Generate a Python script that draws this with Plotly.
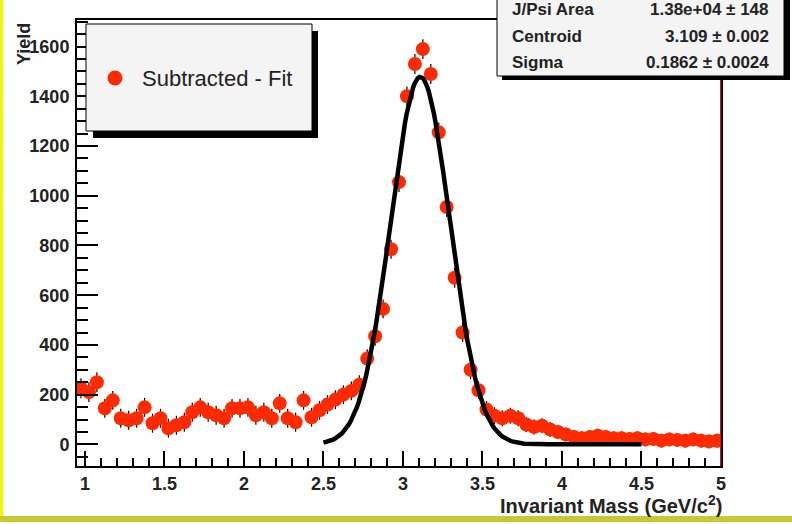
import math
import plotly.graph_objects as go

# ---------------- data ----------------
bin_width = 0.05
mass = [round(0.975 + bin_width * i, 3) for i in range(81)]  # histogram bin centres (GeV/c^2)
yields = [
    226, 210, 250, 145, 177, 105, 97, 105, 149, 85,      # 0.975 - 1.425
    105, 65, 77, 89, 129, 149, 129, 117, 105, 145,       # 1.475 - 1.925
    145, 149, 117, 129, 105, 165, 105, 89, 177, 109,     # 1.975 - 2.425
    137, 160, 180, 200, 215, 240, 345, 435, 545, 785,    # 2.475 - 2.925
    1055, 1400, 1530, 1590, 1490, 1255, 955, 670, 450, 300,  # 2.975 - 3.425
    218, 140, 115, 105, 115, 105, 80, 70, 75, 60,        # 3.475 - 3.925
    50, 40, 30, 25, 30, 35, 30, 25, 25, 22,              # 3.975 - 4.425
    25, 20, 22, 15, 20, 18, 15, 20, 15, 12,              # 4.475 - 4.925
    15,                                                  # 4.975
]
errors = [
    40, 40, 40, 38, 38, 38, 38, 38, 38, 38,
    38, 38, 38, 38, 38, 38, 38, 38, 38, 38,
    38, 38, 38, 38, 38, 38, 38, 38, 38, 38,
    38, 38, 38, 38, 38, 38, 38, 38, 38, 38,
    40, 40, 40, 40, 40, 40, 40, 40, 38, 38,
    36, 34, 34, 32, 32, 32, 30, 30, 30, 30,
    28, 28, 28, 28, 28, 28, 28, 28, 28, 28,
    28, 28, 28, 28, 28, 28, 28, 28, 28, 28,
    28,
]
fit_area = 1.38e4
fit_centroid = 3.109
fit_sigma = 0.1862
fit_range = (2.5, 4.5)
stats_labels = ["J/Psi Area", "Centroid", "Sigma"]
stats_values = ["1.38e+04 ± 148", "3.109 ± 0.002", "0.1862 ± 0.0024"]
legend_label = "Subtracted - Fit"

# fit curve evaluated from the fitted parameters
n_fit = 200
fit_x = [fit_range[0] + (fit_range[1] - fit_range[0]) * i / (n_fit - 1) for i in range(n_fit)]
amp = fit_area * bin_width / (math.sqrt(2 * math.pi) * fit_sigma)
fit_y = [amp * math.exp(-0.5 * ((x - fit_centroid) / fit_sigma) ** 2) for x in fit_x]

RED = "#ff2a00"
FONT = "Liberation Sans, Arial, Helvetica, sans-serif"

# ---------------- figure ----------------
L, R, T, B = 77, 71, 20, 58
W, H = 792, 524
PW, PH = W - L - R, H - T - B


def px(x):
    return (x - L) / PW


def py(y):
    return (H - B - y) / PH


fig = go.Figure()
fig.add_trace(go.Scatter(
    x=mass, y=yields, mode="markers",
    marker=dict(color=RED, size=14, line=dict(width=0)),
    error_y=dict(type="data", array=errors, color="black", thickness=1.2, width=0),
    hoverinfo="skip", showlegend=False,
))
fig.add_trace(go.Scatter(
    x=fit_x, y=fit_y, mode="lines",
    line=dict(color="black", width=4.5),
    hoverinfo="skip", showlegend=False,
))

shapes = [
    # red histogram edge at the upper limit
    dict(type="line", xref="x", yref="paper", x0=5.0, x1=5.0, y0=0, y1=1,
         line=dict(color="#ff0000", width=2), layer="above"),
    # legend box with shadow
    dict(type="rect", xref="paper", yref="paper", x0=px(93), x1=px(318), y0=py(138), y1=py(31),
         fillcolor="black", line=dict(width=0), layer="above"),
    dict(type="rect", xref="paper", yref="paper", x0=px(86), x1=px(312), y0=py(131), y1=py(24),
         fillcolor="#f4f4f4", line=dict(color="black", width=1), layer="above"),
    dict(type="circle", xref="paper", yref="paper", xsizemode="pixel", ysizemode="pixel",
         xanchor=px(115), yanchor=py(78), x0=-7.5, x1=7.5, y0=-7.5, y1=7.5,
         fillcolor=RED, line=dict(width=0), layer="above"),
    # stats box with shadow
    dict(type="rect", xref="paper", yref="paper", x0=px(502), x1=px(790), y0=py(80), y1=py(-4),
         fillcolor="black", line=dict(width=0), layer="above"),
    dict(type="rect", xref="paper", yref="paper", x0=px(497), x1=px(784), y0=py(76), y1=py(-8),
         fillcolor="#f4f4f4", line=dict(color="black", width=1), layer="above"),
    # canvas edges
    dict(type="rect", xref="paper", yref="paper", x0=px(0), x1=px(3), y0=py(516), y1=py(0),
         fillcolor="#f5f500", line=dict(width=0), layer="above"),
    dict(type="rect", xref="paper", yref="paper", x0=px(0), x1=px(792), y0=py(522), y1=py(516),
         fillcolor="#c8c832", line=dict(width=0), layer="above"),
]

annotations = [
    dict(xref="paper", yref="paper", x=px(140), y=py(78), xanchor="left", yanchor="middle",
         text=legend_label, showarrow=False, font=dict(family=FONT, size=22, color="#222")),
    dict(xref="paper", yref="paper", x=px(24), y=py(44), xanchor="center", yanchor="middle",
         text="Yield", textangle=-90, showarrow=False,
         font=dict(family=FONT, size=18, color="#222", weight="bold")),
    dict(xref="paper", yref="paper", x=px(724), y=py(505), xanchor="right", yanchor="middle",
         text="Invariant Mass (GeV/c<sup>2</sup>)", showarrow=False,
         font=dict(family=FONT, size=20, color="#222", weight="bold")),
]
stat_rows_y = [9, 36, 63]
for lab, val, ry in zip(stats_labels, stats_values, stat_rows_y):
    yy = py(ry)
    annotations.append(dict(xref="paper", yref="paper", x=px(510), y=yy, xanchor="left",
                            yanchor="middle", text=lab, showarrow=False,
                            font=dict(family=FONT, size=17, color="#222", weight="bold")))
    annotations.append(dict(xref="paper", yref="paper", x=px(771), y=yy, xanchor="right",
                            yanchor="middle", text=val, showarrow=False,
                            font=dict(family=FONT, size=17, color="#222", weight="bold")))

axis_common = dict(showgrid=False, zeroline=False, showline=True, linecolor="black",
                   linewidth=2, mirror=True, ticks="inside", tickcolor="black", tickwidth=2,
                   tickfont=dict(family=FONT, size=18, color="#222", weight="bold"))

fig.update_layout(
    width=W, height=H,
    margin=dict(l=L, r=R, t=T, b=B, pad=0),
    paper_bgcolor="white", plot_bgcolor="white",
    showlegend=False,
    xaxis=dict(range=[0.95, 5.0], tick0=0, dtick=0.5, ticklen=15,
               minor=dict(dtick=0.1, ticks="inside", ticklen=8, tickwidth=2, tickcolor="black"),
               **axis_common),
    yaxis=dict(range=[-87, 1707], tick0=0, dtick=200, ticklen=21, ticklabelstandoff=2,
               minor=dict(dtick=50, ticks="inside", ticklen=11, tickwidth=2, tickcolor="black"),
               **axis_common),
    shapes=shapes,
    annotations=annotations,
)

fig.write_html("out.html")
